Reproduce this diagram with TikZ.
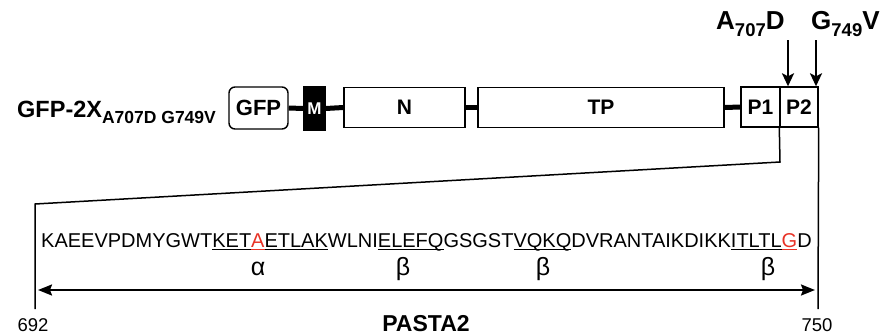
\documentclass[tikz,border=0pt]{standalone}
\usepackage{fontspec}
\setmainfont{Liberation Sans}
\usetikzlibrary{arrows.meta}
\definecolor{mutred}{RGB}{232,50,38}
% underline set just below the baseline, independent of descenders
\newcommand\seqline[1]{\setbox0\hbox{#1}\rlap{\rule[-3.2pt]{\wd0}{1pt}}\box0}
\newcommand\fs[1]{\fontsize{#1}{#1}\selectfont}
\tikzset{
  dom/.style={draw, line width=1.4pt, fill=white, minimum height=40pt, inner sep=0pt,
              font=\bfseries\fs{21}},
  link/.style={line width=5pt},
  mutarrow/.style={line width=2.2pt, -{Stealth[length=13pt,width=12pt,inset=3pt]}},
  zoomline/.style={line width=1.5pt},
  span/.style={line width=2pt, {Stealth[length=14pt,width=11pt,inset=2pt]}-{Stealth[length=14pt,width=11pt,inset=2pt]}},
  lbl/.style={inner sep=0pt, anchor=base}
}
\begin{document}
\begin{tikzpicture}[x=1pt,y=-1pt]
\useasboundingbox (0,0) rectangle (881,335);

% construct name
\node[lbl, anchor=base west, font=\bfseries\fs{23.5}] (name) at (17,117)
  {GFP-2X\raisebox{-6pt}{\fs{17.5}A707D G749V}};

% domain boxes
\node[dom, rounded corners=6pt, minimum width=59pt, minimum height=42pt, font=\bfseries\fs{22}] (gfp) at (258.5,108) {GFP};
\node[dom, fill=black, text=white, minimum width=21pt, minimum height=43pt, font=\bfseries\fs{17}] (m) at (314.5,108.5) {M};
\node[dom, minimum width=121pt] (n) at (404.5,107.5) {N};
\node[dom, minimum width=246pt] (tp) at (601,107.5) {TP};
\node[dom, minimum width=39pt] (p1) at (760.5,107) {P1};
\node[dom, minimum width=38pt] (p2) at (799,107) {P2};

% linkers
\draw[link] (gfp.east) -- (m.west);
\draw[link] (m.east) -- (n.west);
\draw[link] (n.east) -- (tp.west);
\draw[link] (tp.east) -- (p1.west);

% mutation sites
\node[lbl, anchor=base west, font=\bfseries\fs{26}] (mutA) at (716,29)
  {A\raisebox{-7pt}{\fs{18.5}707}D};
\node[lbl, anchor=base west, font=\bfseries\fs{26}] (mutG) at (811,29)
  {G\raisebox{-7pt}{\fs{18.5}749}V};
\coordinate (arrA) at (788,40);
\coordinate (arrG) at (816,40);
\draw[mutarrow] (arrA) -- (arrA |- p2.north);
\draw[mutarrow] (arrG) -- (arrG |- p2.north);

% expansion of the P2 region
\coordinate (bend) at (780,162);
\coordinate (leftTop) at (35,204);
\coordinate (leftEnd) at (35,309);
\coordinate (rightEnd) at (818,309);
\draw[zoomline] (p2.south west) -- (bend) -- (leftTop) -- (leftEnd);
\draw[zoomline] (p2.south east) -- (rightEnd);

% sequence
\node[lbl, anchor=base west, font=\fs{20}] (seq) at (41,247)
  {KAEEVPDMYGWT\seqline{KET}\textcolor{mutred}{\seqline{A}}\seqline{ETLAK}WLNI\seqline{ELEFQ}GSGST\seqline{VQKQ}DVRANTAIKDIKK\seqline{ITLTL}\textcolor{mutred}{\seqline{G}}D};

% secondary structure
\node[lbl, font=\fs{25}] (s1) at (258,275) {α};
\node[lbl, font=\fs{25}] (s2) at (403,275) {β};
\node[lbl, font=\fs{25}] (s3) at (543,275) {β};
\node[lbl, font=\fs{25}] (s4) at (768,275) {β};

% PASTA2 extent
\coordinate (spanL) at (38,290);
\coordinate (spanR) at (815,290);
\draw[span] (spanL) -- (spanR);
\node[lbl, font=\fs{18.5}] (n692) at (33,331) {692};
\node[lbl, font=\fs{18.5}] (n750) at (817,331) {750};
\node[lbl, font=\bfseries\fs{23}] (pasta) at (426,331) {PASTA2};
\end{tikzpicture}
\end{document}
